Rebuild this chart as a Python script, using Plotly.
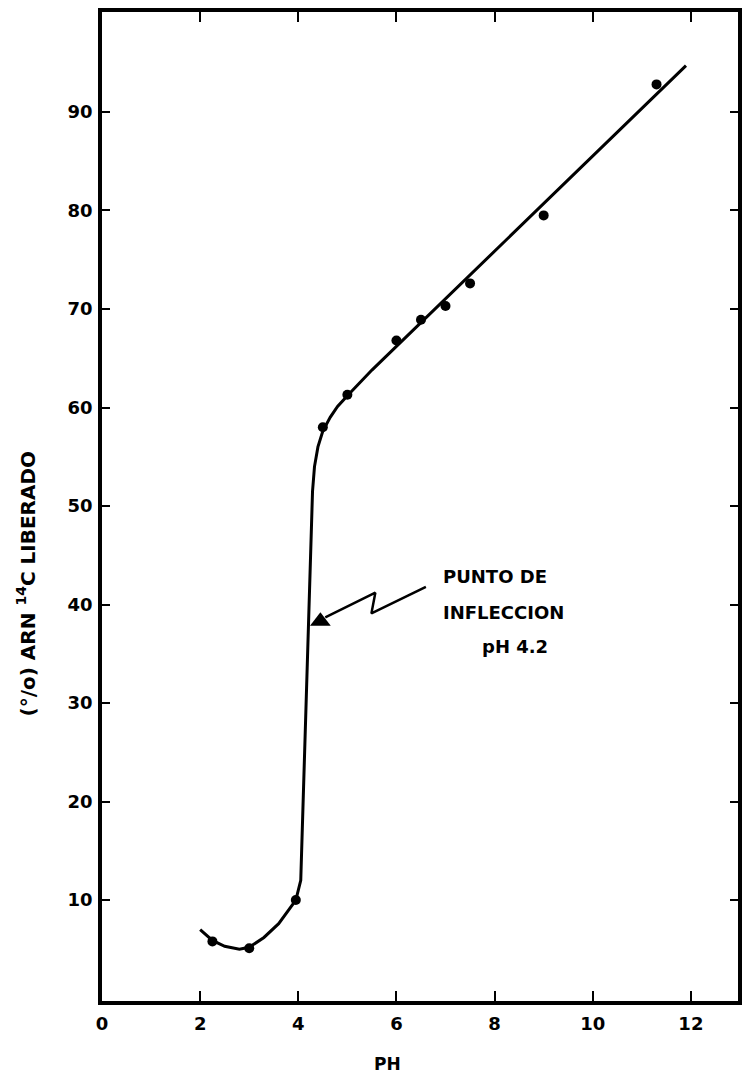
import plotly.graph_objects as go

# Measured points
ph_points = [2.25, 3.0, 3.95, 4.5, 5.0, 6.0, 6.5, 7.0, 7.5, 9.0, 11.3]
rna_points = [5.8, 5.1, 10.0, 58.0, 61.3, 66.8, 68.9, 70.3, 72.6, 79.5, 92.8]

# Hand-drawn fitted curve
curve_ph = [2.0, 2.25, 2.5, 2.8, 3.0, 3.3, 3.6, 3.95, 4.05, 4.1, 4.15, 4.2, 4.25,
            4.29, 4.33, 4.4, 4.5, 4.65, 4.8, 5.0, 5.5, 11.9]
curve_val = [7.0, 5.9, 5.3, 5.0, 5.2, 6.2, 7.6, 10.0, 12.0, 20.0, 30.0, 38.0, 46.0,
             51.5, 54.0, 56.0, 57.6, 59.0, 60.1, 61.2, 63.8, 94.7]

# Inflection point marker and pointer line
inflection_ph = [4.45]
inflection_val = [38.3]
pointer_ph = [4.55, 5.57, 5.49, 6.60]
pointer_val = [38.7, 41.2, 39.1, 41.8]

x_ticks = [0, 2, 4, 6, 8, 10, 12]
y_ticks = [10, 20, 30, 40, 50, 60, 70, 80, 90]

FONT = "DejaVu Sans"
tick_font = dict(family=FONT, size=18, color="black", weight="bold")

fig = go.Figure()
fig.add_trace(go.Scatter(x=curve_ph, y=curve_val, mode="lines",
                         line=dict(color="black", width=3), hoverinfo="skip"))
fig.add_trace(go.Scatter(x=ph_points, y=rna_points, mode="markers",
                         marker=dict(color="black", size=10)))
fig.add_trace(go.Scatter(x=pointer_ph, y=pointer_val, mode="lines",
                         line=dict(color="black", width=2.5)))
fig.add_trace(go.Scatter(x=inflection_ph, y=inflection_val, mode="markers",
                         marker=dict(symbol="triangle-up", color="black", size=18)))

fig.update_layout(
    width=745, height=1075,
    margin=dict(l=102, r=3, t=12, b=74),
    plot_bgcolor="white", paper_bgcolor="white",
    showlegend=False,
    font=dict(family=FONT, color="black"),
)
fig.update_xaxes(
    range=[0, 12.96], tickvals=x_ticks, ticktext=[str(v) for v in x_ticks],
    showgrid=False, zeroline=False, showline=True, linecolor="black", linewidth=3.5,
    mirror="ticks", ticks="inside", ticklen=10, tickwidth=2, tickcolor="black",
    tickfont=tick_font, ticklabelstandoff=4,
)
fig.update_yaxes(
    range=[-0.25, 100.15], tickvals=y_ticks, ticktext=[str(v) for v in y_ticks],
    showgrid=False, zeroline=False, showline=True, linecolor="black", linewidth=3.5,
    mirror="ticks", ticks="inside", ticklen=8, tickwidth=2, tickcolor="black",
    tickfont=tick_font, ticklabelstandoff=2,
)

ann_font = dict(family=FONT, size=18, color="black", weight="bold")
fig.add_annotation(x=6.90, y=42.8, text="PUNTO DE", showarrow=False,
                   xanchor="left", yanchor="middle", font=ann_font)
fig.add_annotation(x=6.90, y=39.2, text="INFLECCION", showarrow=False,
                   xanchor="left", yanchor="middle", font=ann_font)
fig.add_annotation(x=8.42, y=35.7, text="pH 4.2", showarrow=False,
                   xanchor="center", yanchor="middle", font=ann_font)

fig.add_annotation(xref="paper", yref="paper", x=(389 - 102) / 640, y=(1075 - 1064 - 74) / 989,
                   text="PH", showarrow=False, xanchor="center", yanchor="middle",
                   font=dict(family=FONT, size=17, color="black", weight="bold"))
fig.add_annotation(xref="paper", yref="paper", x=(26 - 102) / 640, y=(1001 - 583) / 989,
                   text="(°/o) ARN <sup>14</sup>C LIBERADO", textangle=-90, showarrow=False,
                   xanchor="center", yanchor="middle",
                   font=dict(family=FONT, size=20, color="black", weight="bold"))

fig.write_html("out.html")
